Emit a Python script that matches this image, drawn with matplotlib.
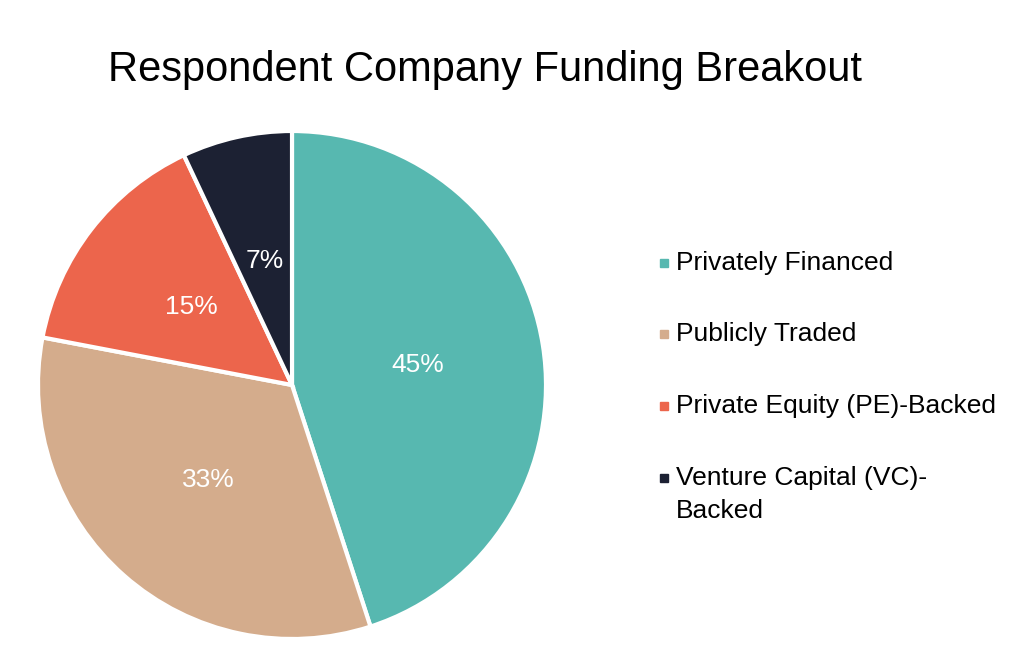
import matplotlib
matplotlib.use("Agg")
import matplotlib.pyplot as plt

categories = ["Privately Financed", "Publicly Traded", "Private Equity (PE)-Backed", "Venture Capital (VC)-Backed"]
legend_lines = [["Privately Financed"], ["Publicly Traded"], ["Private Equity (PE)-Backed"], ["Venture Capital (VC)-", "Backed"]]
values = [45, 33, 15, 7]
colors = ["#57B8B0", "#D4AC8C", "#EC654C", "#1C2133"]
title = "Respondent Company Funding Breakout"

plt.rcParams['font.family'] = ['Liberation Sans', 'DejaVu Sans']

W, H = 1030, 656
fig = plt.figure(figsize=(W / 100, H / 100), dpi=100)

cx, cy, r = 292, 385, 254
ax = fig.add_axes([(cx - r) / W, (H - cy - r) / H, 2 * r / W, 2 * r / H])
wedges, texts, autotexts = ax.pie(
    values, colors=colors, startangle=90, counterclock=False,
    autopct=lambda p: f"{p:.0f}%", pctdistance=0.5,
    wedgeprops=dict(edgecolor="white", linewidth=3),
    textprops=dict(color="white", fontsize=19),
)
ax.set_xlim(-1.0, 1.0)
ax.set_ylim(-1.0, 1.0)
ax.set_aspect("equal")
ax.axis("off")

# overlay in pixel coordinates for title and legend
ov = fig.add_axes([0, 0, 1, 1], facecolor="none")
ov.set_xlim(0, W)
ov.set_ylim(H, 0)
ov.axis("off")

ov.text(485, 70, title, fontsize=30, ha="center", va="center", color="black")

ys = [263, 334, 406, 478]
for lines, col, y in zip(legend_lines, colors, ys):
    ov.plot([664], [y], marker="s", markersize=6, color=col, linestyle="none")
    for i, ln in enumerate(lines):
        ov.text(676, y + i * 33, ln, fontsize=19, ha="left", va="center", color="black")

fig.savefig("out.png", dpi=100)
